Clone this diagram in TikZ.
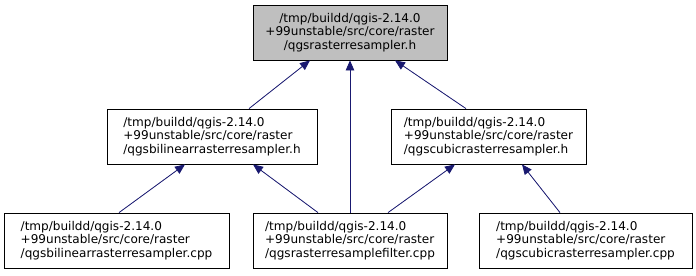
\documentclass[tikz,border=0pt]{standalone}
\usepackage{fontspec}
\setmainfont{DejaVu Sans}
\usetikzlibrary{calc,arrows.meta}
\definecolor{edgeblue}{HTML}{191970}
\definecolor{focusgray}{HTML}{BFBFBF}
\tikzset{
  file/.style={draw=black, line width=0.8bp, rectangle, inner sep=0pt,
    minimum height=55bp, font=\fontsize{12.1}{13.6}\selectfont, align=left, fill=white},
  focus/.style={file, fill=focusgray, align=center},
  incl/.style={draw=edgeblue, line width=0.8bp,
    -{Triangle[length=10bp,width=8.5bp]}, fill=edgeblue}
}
\begin{document}
\begin{tikzpicture}[x=1bp,y=-1bp]
  \useasboundingbox (0,0) rectangle (696,275);
  % headers and sources
  \node[focus, minimum width=194bp] (top) at (350,32.5)
    {/tmp/buildd/qgis-2.14.0\\+99unstable/src/core/raster\\/qgsrasterresampler.h};
  \node[file, minimum width=210bp] (ml) at (212,136.5)
    {/tmp/buildd/qgis-2.14.0\\+99unstable/src/core/raster\\/qgsbilinearrasterresampler.h};
  \node[file, minimum width=195bp] (mr) at (488.5,136.5)
    {/tmp/buildd/qgis-2.14.0\\+99unstable/src/core/raster\\/qgscubicrasterresampler.h};
  \node[file, minimum width=225bp] (bl) at (116.5,240.5)
    {/tmp/buildd/qgis-2.14.0\\+99unstable/src/core/raster\\/qgsbilinearrasterresampler.cpp};
  \node[file, minimum width=194bp] (bm) at (350,240.5)
    {/tmp/buildd/qgis-2.14.0\\+99unstable/src/core/raster\\/qgsrasterresamplefilter.cpp};
  \node[file, minimum width=213bp] (br) at (585.5,240.5)
    {/tmp/buildd/qgis-2.14.0\\+99unstable/src/core/raster\\/qgscubicrasterresampler.cpp};
  % include relations
  \draw[incl] ($(ml.north)+(37,0)$) -- ($(top.south)+(-40,0)$);
  \draw[incl] (bm.north) -- (top.south);
  \draw[incl] ($(mr.north)+(-22.5,0)$) -- ($(top.south)+(45,0)$);
  \draw[incl] ($(bl.north)+(2.5,0)$) -- ($(ml.south)+(-27,0)$);
  \draw[incl] ($(bm.north)+(-32,0)$) -- ($(ml.south)+(41,0)$);
  \draw[incl] ($(bm.north)+(38,0)$) -- ($(mr.south)+(-33.5,0)$);
  \draw[incl] ($(br.north)+(-25.5,0)$) -- ($(mr.south)+(33.5,0)$);
\end{tikzpicture}
\end{document}
